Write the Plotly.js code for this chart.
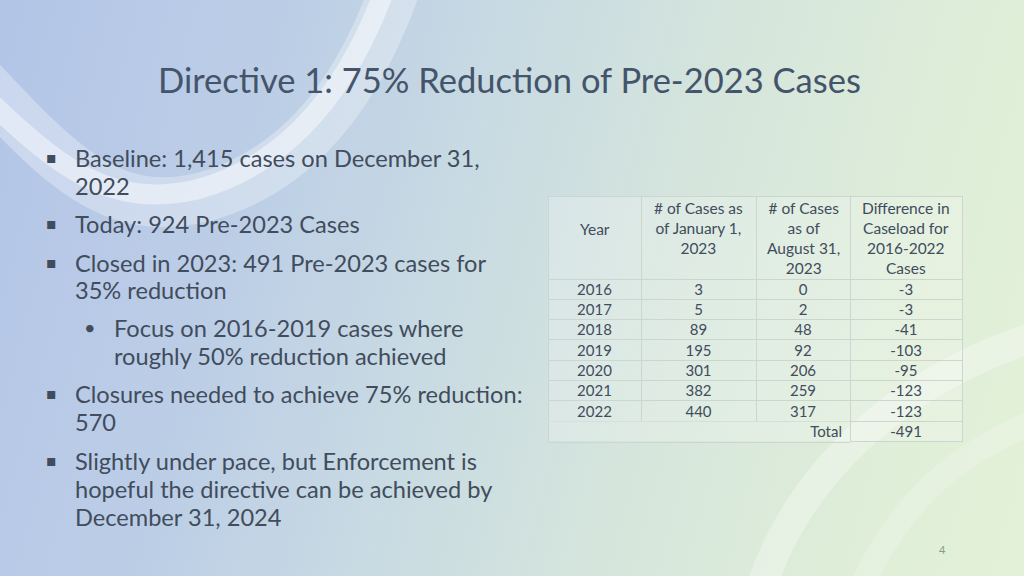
<!DOCTYPE html>
<html>
<head>
<meta charset="utf-8">
<script src="https://cdn.plot.ly/plotly-3.0.1.min.js"></script>
<style>
html,body{margin:0;padding:0;}
#chart{width:1024px;height:576px;background:linear-gradient(105deg,#b3c5e7 0%,#bccee6 25%,#c9dbe2 45%,#d6e6dc 65%,#dfeed8 85%,#e3f1d8 100%);}
</style>
</head>
<body>
<div id="chart"></div>
<script>
// ---- data ----
const years = ["2016","2017","2018","2019","2020","2021","2022"];
const casesJan2023 = [3,5,89,195,301,382,440];
const casesAug2023 = [0,2,48,92,206,259,317];
const difference = [-3,-3,-41,-103,-95,-123,-123];
const totalLabel = "Total";
const totalDifference = -491;
const headers = ["Year","# of Cases as<br>of January 1,<br>2023","# of Cases<br>as of<br>August 31,<br>2023","Difference in<br>Caseload for<br>2016-2022<br>Cases"];
const titleText = "Directive 1: 75% Reduction of Pre-2023 Cases";
const bulletLines = [
  {t:"Baseline: 1,415 cases on December 31,", y:158, b:"sq", lvl:0},
  {t:"2022", y:186, lvl:0},
  {t:"Today: 924 Pre-2023 Cases", y:224, b:"sq", lvl:0},
  {t:"Closed in 2023: 491 Pre-2023 cases for", y:263, b:"sq", lvl:0},
  {t:"35% reduction", y:290, lvl:0},
  {t:"Focus on 2016-2019 cases where", y:328, b:"dot", lvl:1},
  {t:"roughly 50% reduction achieved", y:356, lvl:1},
  {t:"Closures needed to achieve 75% reduction:", y:394, b:"sq", lvl:0},
  {t:"570", y:422, lvl:0},
  {t:"Slightly under pace, but Enforcement is", y:461, b:"sq", lvl:0},
  {t:"hopeful the directive can be achieved by", y:489, lvl:0},
  {t:"December 31, 2024", y:517, lvl:0}
];
const pageNumber = "4";

// ---- helpers ----
const W = 1024, H = 576;
const px = x => x / W;
const py = y => 1 - y / H;
const FONT = "Lato, 'Open Sans', sans-serif";
const TXT = "#414c5c";
const GRID = "#cdd5d0";

const colWidths = [93, 115, 94, 112];
const tableLeft = 548, tableTop = 196, tableBottom = 443;
const headerH = 83, rowH = 20.3;

const col0 = years.concat([""]);
const col1 = casesJan2023.map(String).concat([""]);
const col2 = casesAug2023.map(String).concat([totalLabel]);
const col3 = difference.map(String).concat([String(totalDifference)]);
const nRows = col0.length;

const alignCol = (last) => Array.from({length:nRows}, (_, i) => i === nRows - 1 ? last : "center");
const lineCol = (lastTransparent) => Array.from({length:nRows}, (_, i) => (i === nRows - 1 && lastTransparent) ? "rgba(0,0,0,0)" : GRID);
const blankCol = () => Array.from({length:nRows}, () => "");
const tableRight = tableLeft + colWidths.reduce((a, b) => a + b, 0);

// grid table (fills and borders)
const gridTable = {
  type: "table",
  domain: {x: [px(tableLeft), px(tableRight)], y: [py(tableBottom), py(tableTop)]},
  columnwidth: colWidths,
  header: {
    values: [" "," "," "," "],
    height: headerH,
    fill: {color: "rgba(255,255,255,0.22)"},
    line: {color: GRID, width: 1},
    font: {family: FONT, size: 15, color: TXT}
  },
  cells: {
    values: [blankCol(), blankCol(), blankCol(), blankCol()],
    height: rowH,
    fill: {color: "rgba(255,255,255,0.22)"},
    line: {color: [lineCol(true), lineCol(true), lineCol(true), lineCol(false)], width: 1},
    font: {family: FONT, size: 15, color: TXT}
  }
};
// text table (values), nudged up so the text sits centred in each row
const textShift = 3.5;
const textTable = {
  type: "table",
  domain: {x: [px(tableLeft), px(tableRight)], y: [py(tableBottom + 12), py(tableTop - textShift)]},
  columnwidth: colWidths,
  header: {
    values: [" "," "," "," "],
    height: headerH,
    fill: {color: "rgba(0,0,0,0)"},
    line: {color: "rgba(0,0,0,0)", width: 0},
    font: {family: FONT, size: 15, color: TXT}
  },
  cells: {
    values: [col0, col1, col2, col3],
    align: [alignCol("center"), alignCol("center"), alignCol("right"), alignCol("center")],
    height: rowH,
    fill: {color: "rgba(0,0,0,0)"},
    line: {color: "rgba(0,0,0,0)", width: 0},
    font: {family: FONT, size: 15, color: TXT}
  }
};

const annotations = [];
annotations.push({xref:"paper", yref:"paper", x: px(509), y: py(80), xanchor:"center", yanchor:"middle",
  text: titleText, showarrow:false, font:{family:FONT, size:34.5, color:"#44546a"}});

// header labels (centred line by line)
let cx = tableLeft;
headers.forEach((h, i) => {
  const centre = cx + colWidths[i] / 2;
  cx += colWidths[i];
  annotations.push({xref:"paper", yref:"paper", x: px(centre), y: py(tableTop + 1 + (i === 0 ? 20.5 : 0)),
    xanchor:"center", yanchor:"top", align:"center",
    text: h, showarrow:false, font:{family:FONT, size:15.5, color:TXT}});
});

bulletLines.forEach(l => {
  const xText = l.lvl === 0 ? 73 : 112;
  annotations.push({xref:"paper", yref:"paper", x: px(xText), y: py(l.y), xanchor:"left", yanchor:"middle",
    text: l.t, showarrow:false, font:{family:FONT, size:23.6, color:TXT}});
  if (l.b === "sq") {
    annotations.push({xref:"paper", yref:"paper", x: px(51), y: py(l.y - 1), xanchor:"center", yanchor:"middle",
      text: "▪", showarrow:false, font:{family:"DejaVu Sans", size:16, color:TXT}});
  } else if (l.b === "dot") {
    annotations.push({xref:"paper", yref:"paper", x: px(90), y: py(l.y - 1), xanchor:"center", yanchor:"middle",
      text: "•", showarrow:false, font:{family:FONT, size:20, color:TXT}});
  }
});
annotations.push({xref:"paper", yref:"paper", x: px(942), y: py(549), xanchor:"center", yanchor:"middle",
  text: pageNumber, showarrow:false, font:{family:FONT, size:11, color:"#8a9a8a"}});

const P = (s) => s.replace(/(-?\d+(?:\.\d+)?),(-?\d+(?:\.\d+)?)/g, (m, a, b) => px(+a).toFixed(4) + "," + py(+b).toFixed(4));

const shapes = [
  // decorative swooshes
  {type:"path", xref:"paper", yref:"paper", layer:"below",
   path: P("M -20,80 C 60,165 110,218 200,198 C 300,172 360,90 398,-20"),
   line:{color:"rgba(255,255,255,0.3)", width:50}},
  {type:"path", xref:"paper", yref:"paper", layer:"below",
   path: P("M -20,92 C 60,170 110,208 195,190 C 290,165 352,85 388,-20"),
   line:{color:"rgba(255,255,255,0.45)", width:20}},
  {type:"path", xref:"paper", yref:"paper", layer:"below",
   path: P("M 760,590 C 800,470 900,380 1040,335"),
   line:{color:"rgba(255,255,255,0.3)", width:30}},
  {type:"path", xref:"paper", yref:"paper", layer:"below",
   path: P("M 860,590 C 900,500 960,450 1040,420"),
   line:{color:"rgba(255,255,255,0.18)", width:24}},
  // outer border of merged Total cell
  {type:"path", xref:"paper", yref:"paper", layer:"above",
   path: P("M 548.5,422 L 548.5,442.5 L 850,442.5"),
   line:{color:GRID, width:1}}
];

const layout = {
  width: W, height: H,
  margin: {l:0, r:0, t:0, b:0},
  paper_bgcolor: "rgba(0,0,0,0)",
  plot_bgcolor: "rgba(0,0,0,0)",
  showlegend: false,
  annotations: annotations,
  shapes: shapes
};

Plotly.newPlot("chart", [gridTable, textTable], layout, {displayModeBar:false, staticPlot:true});
</script>
</body>
</html>
